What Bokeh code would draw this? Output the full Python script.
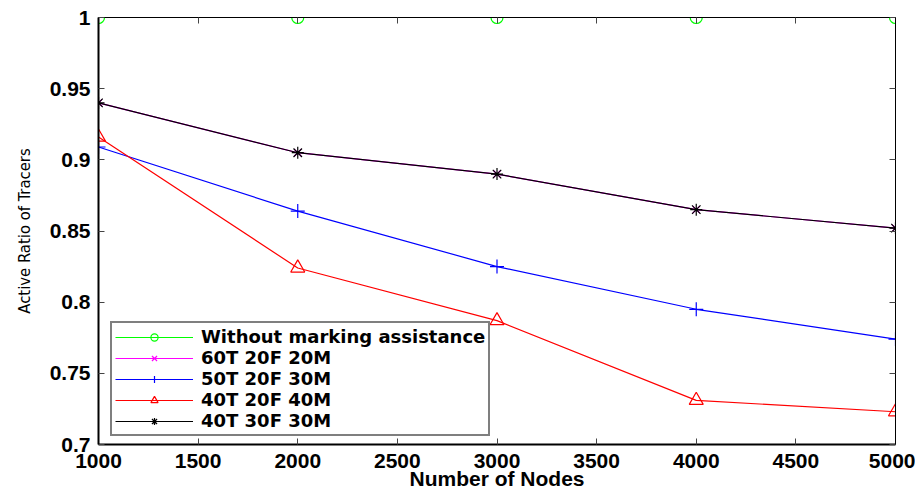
from bokeh.plotting import figure
from bokeh.models import (Range1d, LinearAxis, FixedTicker, Legend, LegendItem)
from bokeh.embed import file_html
from bokeh.resources import INLINE

nodes = [1000, 2000, 3000, 4000, 5000]
without_marking = [1.0, 1.0, 1.0, 1.0, 1.0]
t60_f20_m20 = [0.940, 0.905, 0.890, 0.865, 0.852]
t50_f20_m30 = [0.909, 0.864, 0.825, 0.795, 0.774]
t40_f20_m40 = [0.916, 0.824, 0.787, 0.731, 0.723]
t40_f30_m30 = [0.940, 0.905, 0.890, 0.865, 0.852]

x_ticks = [1000, 1500, 2000, 2500, 3000, 3500, 4000, 4500, 5000]
y_ticks = [0.7, 0.75, 0.8, 0.85, 0.9, 0.95, 1.0]
y_labels = ["0.7", "0.75", "0.8", "0.85", "0.9", "0.95", "1"]

FONT = "Liberation Sans"

p = figure(frame_width=797, frame_height=427, output_backend="svg",
           toolbar_location=None,
           x_range=Range1d(1000, 5000), y_range=Range1d(0.7, 1.0),
           min_border_left=98, min_border_right=20, min_border_top=17,
           min_border_bottom=30, background_fill_color="white",
           border_fill_color="white", outline_line_color="black")
p.xgrid.visible = False
p.ygrid.visible = False

series = [
    ("Without marking assistance", without_marking, "#00ff00", "circle", 12),
    ("60T 20F 20M", t60_f20_m20, "#ff00ff", "x", 10),
    ("50T 20F 30M", t50_f20_m30, "#0000ff", "cross", 14),
    ("40T 20F 40M", t40_f20_m40, "#ff0000", "triangle", 14),
    ("40T 30F 30M", t40_f30_m30, "#000000", "asterisk", 12),
]

items = []
for name, ys, color, marker, size in series:
    ln = p.line(nodes, ys, line_color=color, line_width=1.2)
    sc = p.scatter(nodes, ys, marker=marker, size=size, line_color=color,
                   fill_color=None, line_width=1.2)
    items.append(LegendItem(label=name, renderers=[ln, sc]))

xa = p.xaxis[0]
xa.ticker = FixedTicker(ticks=x_ticks)
ya = p.yaxis[0]
ya.ticker = FixedTicker(ticks=y_ticks)
ya.major_label_overrides = {v: s for v, s in zip(y_ticks, y_labels)}
for ax in (xa, ya):
    ax.major_tick_in = 6
    ax.major_tick_out = 0
    ax.minor_tick_line_color = None
    ax.major_tick_line_color = "#444444"
    ax.axis_line_color = "black"
    ax.axis_line_width = 2
    ax.major_label_text_font = FONT
    ax.major_label_text_font_style = "bold"
    ax.major_label_text_font_size = "21px"
    ax.major_label_text_color = "black"

xa.axis_label = "Number of Nodes"
xa.axis_label_text_font = FONT
xa.axis_label_text_font_style = "bold"
xa.axis_label_text_font_size = "21px"
xa.axis_label_text_color = "black"
xa.axis_label_standoff = -4
xa.major_label_standoff = 9

ya.axis_label = "Active Ratio of Tracers"
ya.axis_label_text_font = "'DejaVu Sans Condensed', 'Liberation Sans'"
ya.axis_label_text_font_style = "normal"
ya.axis_label_text_font_size = "16.5px"
ya.axis_label_text_color = "black"
ya.axis_label_standoff = 13
ya.major_label_standoff = 8

top = LinearAxis(ticker=FixedTicker(ticks=x_ticks))
right = LinearAxis(ticker=FixedTicker(ticks=y_ticks))
top.major_label_overrides = {v: "" for v in x_ticks}
right.major_label_overrides = {v: "" for v in y_ticks}
for ax in (top, right):
    ax.major_tick_in = 6
    ax.major_tick_out = 0
    ax.minor_tick_line_color = None
    ax.major_tick_line_color = "#444444"
    ax.axis_line_color = "black"
    ax.axis_line_width = 1
    ax.major_label_standoff = 0
p.add_layout(top, "above")
p.add_layout(right, "right")

legend = Legend(items=items, location=(12, 8))
legend.label_text_font = "DejaVu Sans"
legend.label_text_font_style = "bold"
legend.label_text_font_size = "18px"
legend.label_text_color = "black"
legend.border_line_color = "black"
legend.border_line_width = 2
legend.glyph_width = 78
legend.glyph_height = 18
legend.label_height = 18
legend.label_standoff = 8
legend.spacing = 0
legend.padding = 3
legend.margin = 0
legend.background_fill_alpha = 1
p.add_layout(legend, "center")

open("out.html", "w").write(file_html(p, INLINE))
